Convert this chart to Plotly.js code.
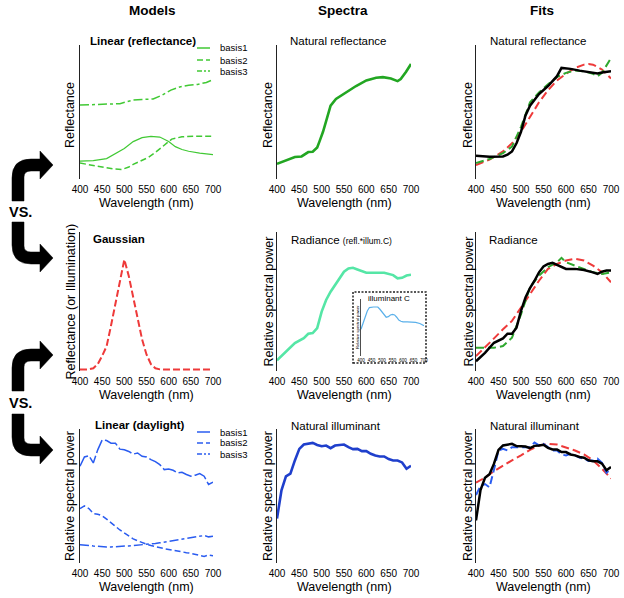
<!DOCTYPE html>
<html><head><meta charset="utf-8">
<script src="https://cdn.plot.ly/plotly-3.0.1.min.js"></script>
<style>html,body{margin:0;padding:0;background:#fff}#chart{width:624px;height:598px}</style>
</head><body><div id="chart"></div>
<script>
// ---------------- DATA ----------------
const tickVals = [400,450,500,550,600,650,700];
const tickLabels = ['400','450','500','550','600','650','700'];
const wl10 = [400,410,420,430,440,450,460,470,480,490,500,510,520,530,540,550,560,570,580,590,600,610,620,630,640,650,660,670,680,690,700];

// Models: linear (reflectance) basis functions
const reflBasisNames = ['basis1','basis2','basis3'];
const wlReflB1 = [400,430,460,480,500,520,540,560,580,600,615,630,645,670,700];
const reflB1 = [0.124,0.128,0.144,0.180,0.220,0.272,0.302,0.311,0.306,0.272,0.234,0.212,0.199,0.185,0.174];
const wlReflB2 = [400,425,450,475,495,510,520,540,555,570,585,600,607,630,660,700];
const reflB2 = [0.110,0.095,0.080,0.066,0.062,0.080,0.100,0.128,0.154,0.190,0.229,0.272,0.291,0.308,0.313,0.313];
const wlReflB3 = [400,425,450,475,490,505,520,540,565,585,605,625,645,665,685,700];
const reflB3 = [0.547,0.549,0.551,0.553,0.558,0.572,0.585,0.590,0.593,0.622,0.660,0.684,0.697,0.703,0.718,0.739];

// Models: Gaussian
const gaussVals = [0,0,0.002,0.01,0.04,0.10,0.17,0.32,0.48,0.66,0.80,0.68,0.52,0.38,0.22,0.11,0.04,0.01,0.002,0,0,0,0,0,0,0,0,0,0,0,0];

// Models: linear (daylight) basis functions
const dayBasisNames = ['basis1','basis2','basis3'];
const dayB1 = [0.719,0.789,0.799,0.744,0.843,0.918,0.913,0.893,0.893,0.848,0.843,0.831,0.811,0.819,0.794,0.789,0.769,0.754,0.731,0.694,0.699,0.689,0.669,0.674,0.657,0.644,0.652,0.664,0.644,0.582,0.600];
const dayB2 = [0.400,0.420,0.400,0.363,0.358,0.346,0.321,0.291,0.266,0.239,0.216,0.192,0.172,0.157,0.142,0.132,0.122,0.112,0.105,0.098,0.092,0.085,0.078,0.072,0.068,0.063,0.055,0.047,0.040,0.050,0.045];
const dayB3 = [0.127,0.126,0.122,0.118,0.114,0.112,0.111,0.111,0.112,0.114,0.117,0.119,0.122,0.124,0.127,0.130,0.132,0.137,0.142,0.147,0.152,0.157,0.162,0.167,0.172,0.177,0.184,0.190,0.197,0.187,0.192];

// Spectra
const wlNatRefl = [400,420,440,455,470,480,490,495,503,510,520,532,555,577,600,622,637,655,670,677,689,700];
const natRefl = [0.104,0.128,0.156,0.160,0.193,0.195,0.227,0.272,0.346,0.427,0.543,0.593,0.642,0.691,0.733,0.753,0.758,0.748,0.728,0.743,0.798,0.857];
const wlRadiance = [400,420,440,460,470,480,490,500,510,520,530,540,550,560,570,580,600,620,640,660,670,680,690,700];
const radiance = [0.067,0.133,0.193,0.229,0.260,0.265,0.301,0.422,0.506,0.566,0.614,0.663,0.711,0.735,0.740,0.728,0.704,0.704,0.704,0.687,0.663,0.667,0.684,0.689];
const wlIllumC = [400,410,420,430,440,450,460,470,480,490,500,510,520,530,540,550,560,570,580,590,600,620,640,660,680,700];
const illumC = [0.47,0.58,0.69,0.79,0.85,0.86,0.86,0.86,0.86,0.82,0.77,0.71,0.68,0.69,0.72,0.73,0.72,0.68,0.63,0.61,0.60,0.60,0.60,0.59,0.57,0.53];
const natIllum = [0.325,0.538,0.643,0.663,0.763,0.850,0.883,0.888,0.895,0.880,0.870,0.875,0.855,0.875,0.878,0.883,0.863,0.848,0.850,0.833,0.833,0.813,0.800,0.793,0.793,0.773,0.763,0.763,0.748,0.700,0.723];

// Fits: reflectance
const wlFitReflData = [400,430,460,470,480,490,500,510,520,540,560,580,590,610,630,650,670,680,700];
const fitReflData = [0.165,0.158,0.160,0.173,0.198,0.259,0.346,0.469,0.543,0.630,0.691,0.765,0.827,0.820,0.807,0.795,0.785,0.793,0.802];
const wlFitReflLin = [400,430,460,480,500,520,540,560,580,600,620,640,660,670,680,700];
const fitReflLin = [0.111,0.141,0.185,0.235,0.383,0.568,0.642,0.704,0.758,0.790,0.807,0.802,0.783,0.765,0.790,0.901];
const wlFitReflGauss = [400,430,460,480,500,520,540,560,580,600,620,640,650,660,680,700];
const fitReflGauss = [0.094,0.136,0.198,0.259,0.346,0.457,0.568,0.659,0.733,0.783,0.827,0.852,0.857,0.852,0.815,0.748];

// Fits: radiance
const wlFitRadData = [400,420,440,460,470,480,490,500,510,520,530,540,550,560,570,580,590,600,620,640,660,670,680,690,700];
const fitRadData = [0.061,0.122,0.195,0.227,0.261,0.261,0.305,0.427,0.524,0.593,0.646,0.707,0.749,0.768,0.776,0.761,0.744,0.732,0.732,0.724,0.707,0.695,0.712,0.720,0.720];
const wlFitRadLin = [400,420,440,460,480,500,520,540,560,580,590,600,620,640,660,680,700];
const fitRadLin = [0.159,0.159,0.159,0.171,0.232,0.402,0.598,0.683,0.744,0.780,0.812,0.780,0.756,0.732,0.707,0.695,0.707];
const wlFitRadGauss = [400,420,440,460,480,500,520,540,560,580,600,620,640,660,680,700];
const fitRadGauss = [0.098,0.159,0.227,0.293,0.354,0.451,0.549,0.646,0.732,0.768,0.793,0.805,0.793,0.756,0.707,0.634];

// Fits: illuminant
const fitIllData = [0.311,0.540,0.632,0.659,0.739,0.843,0.876,0.881,0.888,0.871,0.868,0.868,0.856,0.873,0.876,0.881,0.858,0.846,0.846,0.826,0.826,0.808,0.801,0.789,0.784,0.764,0.756,0.756,0.739,0.689,0.714];
const fitIllLin = [0.502,0.570,0.585,0.560,0.694,0.838,0.851,0.838,0.863,0.863,0.858,0.863,0.863,0.898,0.876,0.888,0.863,0.838,0.838,0.808,0.801,0.813,0.801,0.784,0.776,0.759,0.764,0.776,0.744,0.669,0.701];
const wlFitIllGauss = [400,420,440,460,480,500,520,540,560,580,600,620,640,660,680,700];
const fitIllGauss = [0.595,0.634,0.682,0.726,0.764,0.801,0.843,0.876,0.888,0.883,0.863,0.838,0.808,0.764,0.701,0.627];

// ---------------- LAYOUT HELPERS ----------------
const W = 624, H = 598;
const FONT = 'Liberation Sans, Arial, sans-serif';
const fx = v => v / W;
const fy = v => 1 - v / H;
const colsPx = [[80,213],[277,411],[476,611]];
const rowsPx = [[45,179],[232,371],[429,563]];

const C = {
  green: '#41c934', natGreen: '#22a622', fitGreen: '#2fa82f', red: '#ee3a3a',
  mint: '#55e6a6', cyan: '#5ab0ea', blue: '#2a5cf0', natBlue: '#1f3fcc', black: '#000000'
};

function tr(x, y, sp, color, width, dash, name) {
  return {type:'scatter', mode:'lines', x:x, y:y, name:name||'', showlegend:false,
    xaxis:'x'+(sp>1?sp:''), yaxis:'y'+(sp>1?sp:''), hoverinfo:'skip',
    line:{color:color, width:width, dash:dash||'solid'}};
}

const dashB1day = '14px,3px', dash2 = '6px,3px', dashDD = '9px,3px,3px,3px', fitDash = '8px,4px';

const data = [
  tr(wlReflB3, reflB3, 1, C.green, 1.5, dashDD, reflBasisNames[2]),
  tr(wlReflB1, reflB1, 1, C.green, 1.2, 'solid', reflBasisNames[0]),
  tr(wlReflB2, reflB2, 1, C.green, 1.5, dash2, reflBasisNames[1]),
  tr(wlNatRefl, natRefl, 2, C.natGreen, 2.6),
  tr(wlFitReflGauss, fitReflGauss, 3, C.red, 2, fitDash),
  tr(wlFitReflLin, fitReflLin, 3, C.fitGreen, 2, fitDash),
  tr(wlFitReflData, fitReflData, 3, C.black, 2.5),
  tr(wl10, gaussVals, 4, C.red, 2, '7px,3px'),
  tr(wlRadiance, radiance, 5, C.mint, 2.6),
  tr(wlFitRadGauss, fitRadGauss, 6, C.red, 2, fitDash),
  tr(wlFitRadLin, fitRadLin, 6, C.fitGreen, 2, fitDash),
  tr(wlFitRadData, fitRadData, 6, C.black, 2.5),
  tr(wl10, dayB1, 7, C.blue, 1.5, dashB1day, dayBasisNames[0]),
  tr(wl10, dayB2, 7, C.blue, 1.5, dash2, dayBasisNames[1]),
  tr(wl10, dayB3, 7, C.blue, 1.5, dashDD, dayBasisNames[2]),
  tr(wl10, natIllum, 8, C.natBlue, 2.6),
  tr(wlFitIllGauss, fitIllGauss, 9, C.red, 2, fitDash),
  tr(wl10, fitIllLin, 9, C.blue, 2, fitDash),
  tr(wl10, fitIllData, 9, C.black, 2.5),
  tr(wlIllumC, illumC, 10, C.cyan, 1.2)
];

const layout = {
  width: W, height: H, autosize: false,
  margin: {l:0, r:0, t:0, b:0, pad:0},
  paper_bgcolor: '#fff', plot_bgcolor: 'rgba(0,0,0,0)',
  font: {family: FONT, color: '#000'},
  showlegend: false,
  annotations: [], shapes: []
};

for (let r = 0; r < 3; r++) {
  for (let c = 0; c < 3; c++) {
    const i = r*3 + c + 1, s = i > 1 ? String(i) : '';
    layout['xaxis'+s] = {domain:[fx(colsPx[c][0]), fx(colsPx[c][1])], range:[400,700], anchor:'y'+s,
      tickmode:'array', tickvals:tickVals, ticktext:tickLabels, ticks:'', showline:false, showgrid:false,
      zeroline:false, tickfont:{size:10, color:'#000', family:FONT}, ticklabelstandoff:3, fixedrange:true};
    layout['yaxis'+s] = {domain:[fy(rowsPx[r][1]), fy(rowsPx[r][0])], range:[-0.01,1], anchor:'x'+s,
      showline:true, linecolor:'#222', linewidth:1, showticklabels:false, ticks:'', showgrid:false,
      zeroline:false, fixedrange:true};
  }
}
layout.xaxis10 = {domain:[fx(361), fx(424)], range:[400,700], anchor:'y10', tickmode:'array',
  tickvals:tickVals, ticktext:tickLabels, ticks:'', showline:false, showgrid:false, zeroline:false,
  tickfont:{size:4.5, color:'#000', family:FONT}, ticklabelstandoff:0, fixedrange:true};
layout.yaxis10 = {domain:[fy(356), fy(299)], range:[0,1], anchor:'x10', showline:true, linecolor:'#222',
  linewidth:0.8, showticklabels:false, ticks:'', showgrid:false, zeroline:false, fixedrange:true};

function ann(text, xp, yp, size, opts) {
  return Object.assign({text:text, x:fx(xp), y:fy(yp), xref:'paper', yref:'paper', showarrow:false,
    xanchor:'left', yanchor:'middle', font:{size:size, family:FONT, color:'#000'}}, opts||{});
}

[['Models',152],['Spectra',343],['Fits',542]].forEach(h =>
  layout.annotations.push(ann('<b>'+h[0]+'</b>', h[1], 11, 13.5, {xanchor:'center'})));

const panelTitles = [
  ['<b>Linear (reflectance)</b>', 88, 41, 11.5],
  ['Natural reflectance', 288, 41, 11.5],
  ['Natural reflectance', 488, 41, 11.5],
  ['<b>Gaussian</b>', 91, 239, 11.5],
  ['Radiance <span style="font-size:8.5px">(refl.*illum.C)</span>', 289, 240, 11.5],
  ['Radiance', 487, 240, 11.5],
  ['<b>Linear (daylight)</b>', 93, 425, 11.5],
  ['Natural illuminant', 289, 426, 11.5],
  ['Natural illuminant', 488, 426, 11.5]
];
panelTitles.forEach(p => layout.annotations.push(ann(p[0], p[1], p[2], p[3])));

const yTitles = ['Reflectance','Reflectance','Reflectance',
  'Reflectance (or Illumination)','Relative spectral power','Relative spectral power',
  'Relative spectral power','Relative spectral power','Relative spectral power'];
const yTitleX = [70, 268, 468];
for (let r = 0; r < 3; r++) for (let c = 0; c < 3; c++) {
  const yc = (rowsPx[r][0] + rowsPx[r][1]) / 2 + (r === 0 ? 3 : 0);
  layout.annotations.push(ann(yTitles[r*3+c], yTitleX[c], yc, 12.5, {xanchor:'center', textangle:-90}));
  const xc = (colsPx[c][0] + colsPx[c][1]) / 2;
  layout.annotations.push(ann('Wavelength (nm)', xc, rowsPx[r][1] + 24, 12.5, {xanchor:'center'}));
}

layout.annotations.push(ann('illuminant C', 366, 298, 8));
layout.annotations.push(ann('Relative spectral power', 357, 327, 4.2, {xanchor:'center', textangle:-90}));

layout.shapes.push({type:'rect', xref:'paper', yref:'paper', x0:fx(353), x1:fx(426), y0:fy(363), y1:fy(292),
  line:{color:'#222', width:1.5, dash:'2px,1.5px'}, fillcolor:'#fff', layer:'below'});

function legend(names, dashes, color, widths, rowsY) {
  names.forEach((n, k) => {
    layout.shapes.push({type:'line', xref:'paper', yref:'paper', x0:fx(197), x1:fx(210), y0:fy(rowsY[k]), y1:fy(rowsY[k]),
      line:{color:color, width:widths[k], dash:dashes[k]}});
    layout.annotations.push(ann(n, 218, rowsY[k], 9.5));
  });
}
legend(reflBasisNames, ['solid', dash2, '5px,2px,2px,2px'], C.green, [1.5,1.5,1.5], [48,60,71]);
legend(dayBasisNames, ['solid', dash2, '5px,2px,2px,2px'], C.blue, [1.5,1.5,1.5], [432,443,454]);

layout.annotations.push(ann('<b>VS.</b>', 20, 212, 14.5, {xanchor:'center'}));
layout.annotations.push(ann('<b>VS.</b>', 20, 403, 14.5, {xanchor:'center'}));

function arrowPath(yRef, down) {
  const s = down ? 1 : -1;
  const P = (x, d) => fx(x).toFixed(5) + ',' + fy(yRef + s*d).toFixed(5);
  return 'M' + P(12,0) + ' L' + P(12,23) + ' Q' + P(12,42) + ' ' + P(31,42) + ' L' + P(40,42) +
    ' L' + P(40,50) + ' L' + P(53,36) + ' L' + P(40,22) + ' L' + P(40,30) + ' L' + P(31,30) +
    ' Q' + P(24,30) + ' ' + P(24,24) + ' L' + P(24,0) + ' Z';
}
[[201,false],[222,true],[391,false],[414,true]].forEach(a =>
  layout.shapes.push({type:'path', xref:'paper', yref:'paper', path:arrowPath(a[0], a[1]),
    fillcolor:'#000', line:{color:'#000', width:0.5}}));

Plotly.newPlot('chart', data, layout, {staticPlot:true, displayModeBar:false});
</script></body></html>
